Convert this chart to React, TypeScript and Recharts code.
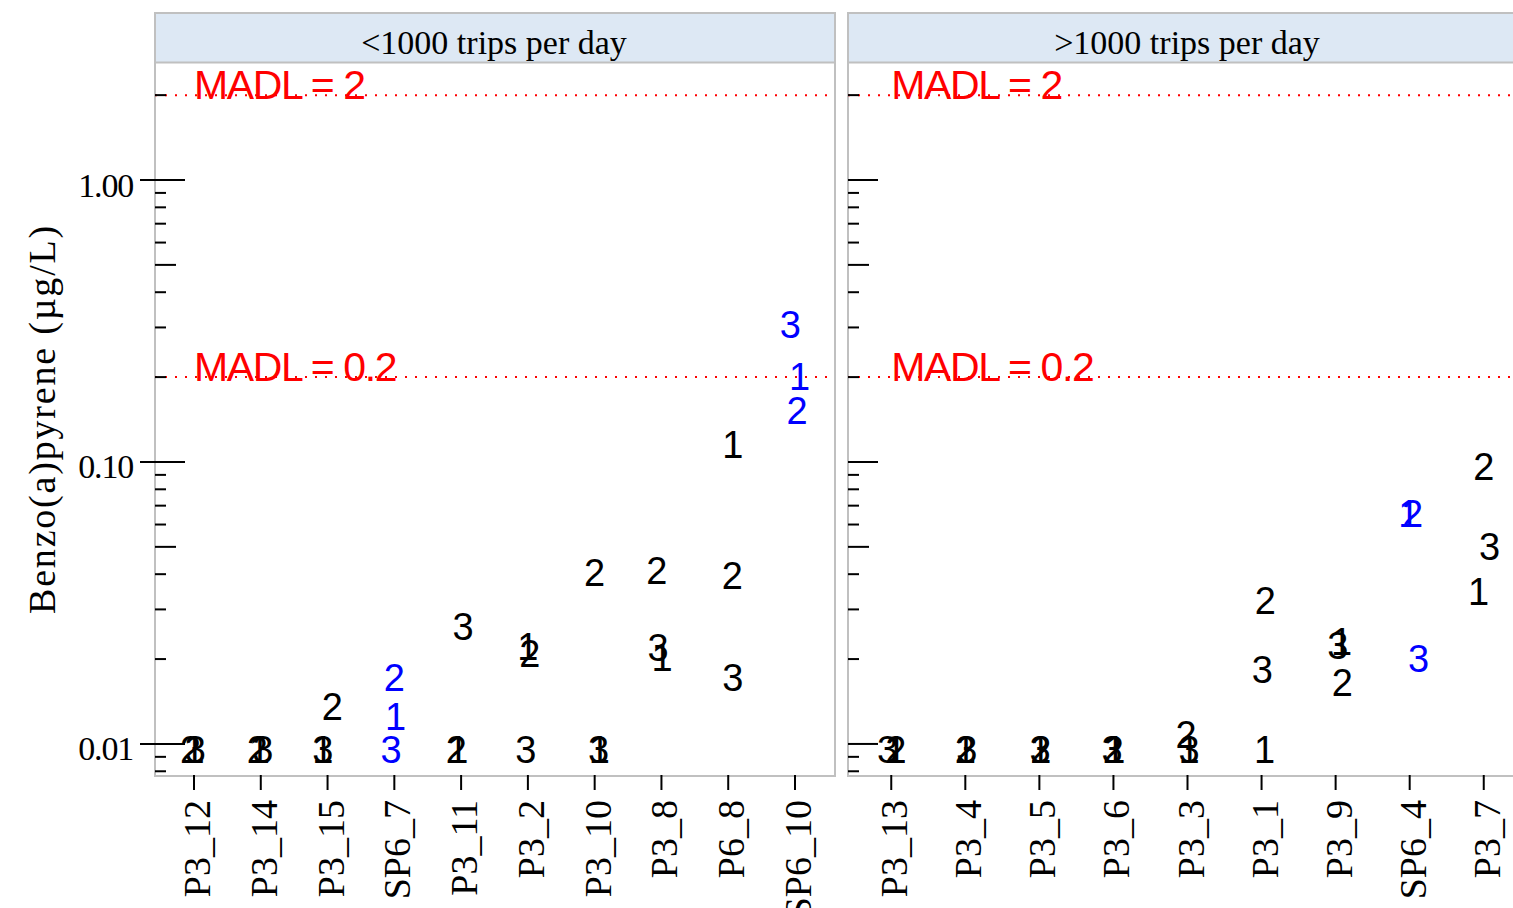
import { ReferenceDot, ReferenceLine, Scatter, ScatterChart, XAxis, YAxis } from "recharts";

const SERIF = "'Liberation Serif', 'Times New Roman', serif";
const SANS = "'Liberation Sans', Arial, sans-serif";

// sites with < 1000 trips per day
const LOW_SITES = ["P3_12", "P3_14", "P3_15", "SP6_7", "P3_11", "P3_2", "P3_10", "P3_8", "P6_8", "SP6_10"];
const LOW_SAMPLE1 = [0.01, 0.01, 0.01, 0.0131, 0.01, 0.0232, 0.01, 0.0212, 0.121, 0.21];
const LOW_SAMPLE2 = [0.01, 0.01, 0.0142, 0.018, 0.01, 0.0219, 0.0423, 0.0431, 0.0414, 0.159];
const LOW_SAMPLE3 = [0.01, 0.01, 0.01, 0.01, 0.0273, 0.01, 0.01, 0.023, 0.018, 0.321];
// horizontal jitter (category units) so repeated samples stay readable
const LOW_SHIFT1 = [0, -0.02, -0.07, 0.02, -0.05, 0, 0.07, 0.01, 0.07, 0.07];
const LOW_SHIFT2 = [-0.05, -0.05, 0.07, 0, -0.07, 0.03, 0, -0.07, 0.06, 0.03];
const LOW_SHIFT3 = [0.02, 0.03, -0.07, -0.05, 0.03, -0.03, 0.06, -0.05, 0.07, -0.07];

// sites with > 1000 trips per day
const HIGH_SITES = ["P3_13", "P3_4", "P3_5", "P3_6", "P3_3", "P3_1", "P3_9", "SP6_4", "P3_7"];
const HIGH_SAMPLE1 = [0.01, 0.01, 0.01, 0.01, 0.01, 0.01, 0.0242, 0.0687, 0.0363];
const HIGH_SAMPLE2 = [0.01, 0.01, 0.01, 0.01, 0.0113, 0.0338, 0.0173, 0.0687, 0.1008];
const HIGH_SAMPLE3 = [0.01, 0.01, 0.01, 0.01, 0.01, 0.0192, 0.0234, 0.021, 0.0525];
const HIGH_SHIFT1 = [0.06, 0, 0.01, 0.02, 0.02, 0.04, 0.08, -0.01, -0.07];
const HIGH_SHIFT2 = [0.06, 0, 0.02, 0, -0.02, 0.05, 0.09, 0.04, 0];
const HIGH_SHIFT3 = [-0.05, 0.02, 0.01, -0.02, 0.02, 0.01, 0.03, 0.12, 0.08];

const MADL_LEVELS = [2, 0.2];
const Y_TICKS = [0.008, 0.009, 0.01, 0.02, 0.03, 0.04, 0.05, 0.06, 0.07, 0.08, 0.09, 0.1, 0.2, 0.3, 0.4, 0.5, 0.6, 0.7, 0.8, 0.9, 1, 2];
const MAJOR_TICKS = [0.01, 0.1, 1];
const MID_TICKS = [0.05, 0.5];
const Y_DOMAIN = [0.00776, 2.6];
const EDGE = 0.584;

type Point = { x: number; y: number; sample: number; site: string };

function buildPoints(sites: string[], samples: number[][], shifts: number[][]): Point[] {
  const pts: Point[] = [];
  sites.forEach((site, i) => {
    samples.forEach((vals, s) => {
      pts.push({ x: i + shifts[s][i], y: vals[i], sample: s + 1, site });
    });
  });
  return pts;
}

const near = (list: number[], v: number) => list.some((m) => Math.abs(m - v) < 1e-9);

const renderGlyph = (props: any) => {
  const { cx, cy, payload } = props;
  if (cx == null || cy == null) return <g />;
  const color = payload.site.startsWith("SP") ? "#0000FF" : "#000000";
  return (
    <text x={cx} y={cy + 19} textAnchor="middle" fontFamily={SANS} fontSize={38} fill={color}>
      {payload.sample}
    </text>
  );
};

function ConcTick(props: any) {
  const { x, y, payload, showLabels } = props;
  const v = payload.value;
  const major = near(MAJOR_TICKS, v);
  const len = major ? 30 : near(MID_TICKS, v) ? 21 : 11;
  return (
    <g>
      <line x1={showLabels && major ? x - 15 : x} x2={x + len} y1={y} y2={y} stroke="#000" strokeWidth={2} />
      {showLabels && major && (
        <text x={x - 22} y={y + 16.5} textAnchor="end" fontFamily={SERIF} fontSize={34} letterSpacing={-1.2} fill="#000">
          {v.toFixed(2)}
        </text>
      )}
    </g>
  );
}

function SiteTick(props: any) {
  const { x, y, payload, sites } = props;
  return (
    <g>
      <line x1={x} x2={x} y1={y} y2={y + 15} stroke="#000" strokeWidth={2} />
      <text
        transform={`translate(${x},${y + 25}) rotate(-90)`}
        x={0}
        y={16}
        textAnchor="end"
        fontFamily={SERIF}
        fontSize={38}
        fill="#000"
      >
        {sites[payload.value]}
      </text>
    </g>
  );
}

function MadlText({ viewBox, level }: any) {
  if (!viewBox) return null;
  return (
    <text x={viewBox.x} y={viewBox.y + 4} fontFamily={SANS} fontSize={41} letterSpacing={-1.4} fill="#FF0000">
      {`MADL = ${level}`}
    </text>
  );
}

const renderTitle = (props: any) => {
  const vb = props.viewBox;
  return (
    <text
      transform={`translate(${vb.x + 55},${vb.y + vb.height / 2}) rotate(-90)`}
      textAnchor="middle"
      fontFamily={SERIF}
      fontSize={38}
      letterSpacing={1.8}
      fill="#000"
    >
      Benzo(a)pyrene (µg/L)
    </text>
  );
};

type PanelProps = {
  sites: string[];
  samples: number[][];
  shifts: number[][];
  showAxisText: boolean;
  width: number;
  yAxisWidth: number;
  marginRight: number;
};

function Panel({ sites, samples, shifts, showAxisText, width, yAxisWidth, marginRight }: PanelProps) {
  const points = buildPoints(sites, samples, shifts);
  const last = sites.length - 1;
  return (
    <ScatterChart width={width} height={908} margin={{ top: 63, right: marginRight, bottom: 0, left: 0 }}>
      <XAxis
        type="number"
        dataKey="x"
        domain={[-EDGE, last + EDGE]}
        ticks={sites.map((_, i) => i)}
        interval={0}
        allowDataOverflow
        axisLine={false}
        tickLine={false}
        tickSize={0}
        tickMargin={0}
        height={133}
        tick={<SiteTick sites={sites} />}
      />
      <YAxis
        type="number"
        dataKey="y"
        scale="log"
        domain={Y_DOMAIN}
        ticks={Y_TICKS}
        interval={0}
        allowDataOverflow
        axisLine={false}
        tickLine={false}
        tickSize={0}
        tickMargin={0}
        width={yAxisWidth}
        tick={<ConcTick showLabels={showAxisText} />}
        label={showAxisText ? renderTitle : undefined}
      />
      {MADL_LEVELS.map((level) => (
        <ReferenceLine key={`line-${level}`} y={level} stroke="#FF0000" strokeWidth={2} strokeDasharray="2 8" />
      ))}
      {MADL_LEVELS.map((level) => (
        <ReferenceDot
          key={`label-${level}`}
          x={0}
          y={level}
          r={0}
          fill="none"
          stroke="none"
          label={(p: any) => <MadlText viewBox={p.viewBox} level={level} />}
        />
      ))}
      <Scatter data={points} shape={renderGlyph} isAnimationActive={false} />
    </ScatterChart>
  );
}

function Frames() {
  const frame = "#C0C0C0";
  const strip = "#DDE8F4";
  return (
    <svg width={1513} height={908} style={{ position: "absolute", left: 0, top: 0 }}>
      <rect x={155} y={13} width={680} height={49} fill={strip} />
      <rect x={848} y={13} width={690} height={49} fill={strip} />
      <rect x={155} y={13} width={680} height={763} fill="none" stroke={frame} strokeWidth={2} />
      <rect x={848} y={13} width={690} height={763} fill="none" stroke={frame} strokeWidth={2} />
      <line x1={155} x2={835} y1={62.5} y2={62.5} stroke={frame} strokeWidth={2} />
      <line x1={848} x2={1538} y1={62.5} y2={62.5} stroke={frame} strokeWidth={2} />
      <text x={494} y={54} textAnchor="middle" fontFamily={SERIF} fontSize={34} fill="#000">
        {"<1000 trips per day"}
      </text>
      <text x={1187} y={54} textAnchor="middle" fontFamily={SERIF} fontSize={34} fill="#000">
        {">1000 trips per day"}
      </text>
    </svg>
  );
}

export default function App() {
  return (
    <div
      style={{
        position: "fixed",
        left: 0,
        top: 0,
        width: 1513,
        height: 908,
        overflow: "hidden",
        background: "#fff",
        fontFamily: SERIF,
      }}
    >
      <Frames />
      <div style={{ position: "absolute", left: 0, top: 0 }}>
        <Panel
          sites={LOW_SITES}
          samples={[LOW_SAMPLE1, LOW_SAMPLE2, LOW_SAMPLE3]}
          shifts={[LOW_SHIFT1, LOW_SHIFT2, LOW_SHIFT3]}
          showAxisText
          width={850}
          yAxisWidth={155}
          marginRight={16}
        />
      </div>
      <div style={{ position: "absolute", left: 836, top: 0 }}>
        <Panel
          sites={HIGH_SITES}
          samples={[HIGH_SAMPLE1, HIGH_SAMPLE2, HIGH_SAMPLE3]}
          shifts={[HIGH_SHIFT1, HIGH_SHIFT2, HIGH_SHIFT3]}
          showAxisText={false}
          width={700}
          yAxisWidth={12}
          marginRight={9}
        />
      </div>
    </div>
  );
}
